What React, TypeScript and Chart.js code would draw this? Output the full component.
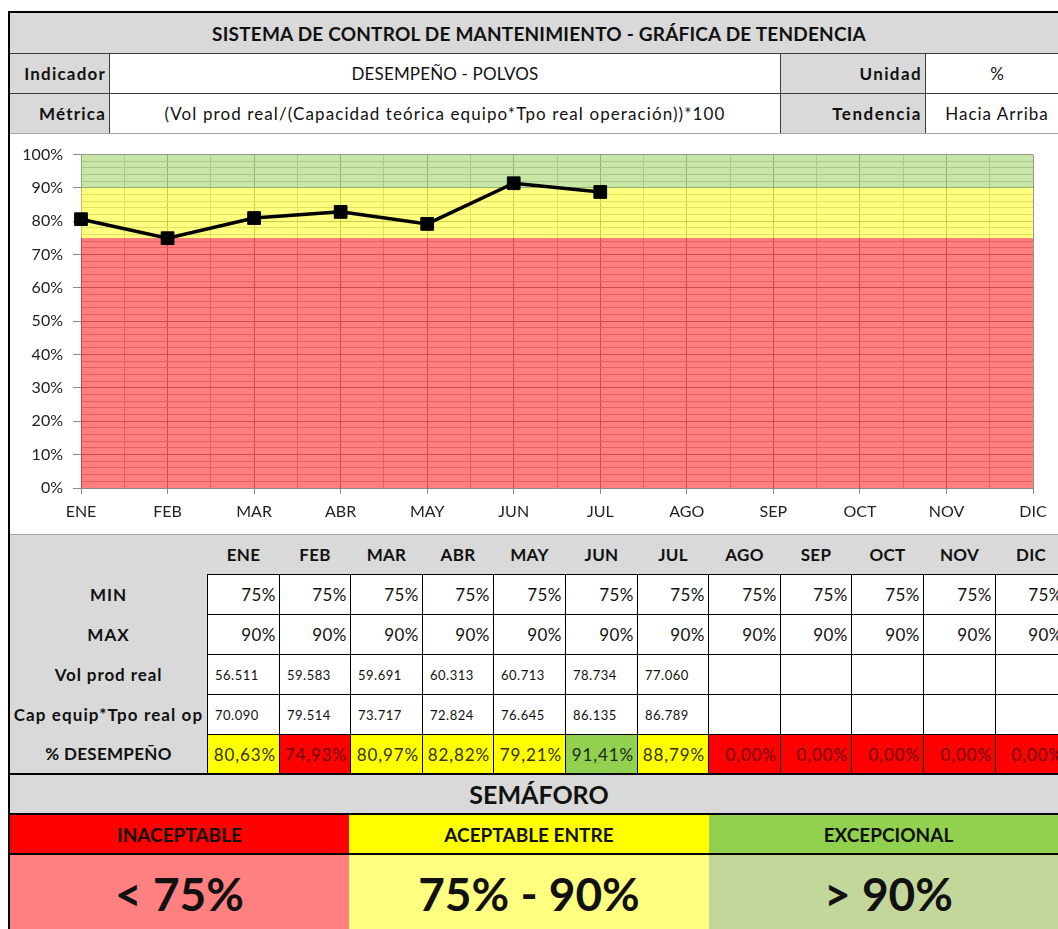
import React, { useEffect, useRef } from 'react';
import { Chart, registerables } from 'chart.js';

Chart.register(...registerables);

// ---------- data ----------
const MONTHS = ['ENE', 'FEB', 'MAR', 'ABR', 'MAY', 'JUN', 'JUL', 'AGO', 'SEP', 'OCT', 'NOV', 'DIC'];
const DESEMPENO = [80.63, 74.93, 80.97, 82.82, 79.21, 91.41, 88.79];
const TABLE_PERF = [80.63, 74.93, 80.97, 82.82, 79.21, 91.41, 88.79, 0, 0, 0, 0, 0];
const MIN_LIMIT = [75, 75, 75, 75, 75, 75, 75, 75, 75, 75, 75, 75];
const MAX_LIMIT = [90, 90, 90, 90, 90, 90, 90, 90, 90, 90, 90, 90];
const TOP_LIMIT = [100, 100, 100, 100, 100, 100, 100, 100, 100, 100, 100, 100];
const VOL_PROD = [56511, 59583, 59691, 60313, 60713, 78734, 77060];
const CAP_EQUIP = [70090, 79514, 73717, 72824, 76645, 86135, 86789];

const TITLE = 'SISTEMA DE CONTROL DE MANTENIMIENTO - GRÁFICA DE TENDENCIA';
const INDICADOR = 'DESEMPEÑO - POLVOS';
const METRICA = '(Vol prod real/(Capacidad teórica equipo*Tpo real operación))*100';
const UNIDAD = '%';
const TENDENCIA = 'Hacia Arriba';
const ROW_LABELS = ['MIN', 'MAX', 'Vol prod real', 'Cap equip*Tpo real op', '% DESEMPEÑO'];
const SEM_LABELS = ['INACEPTABLE', 'ACEPTABLE ENTRE', 'EXCEPCIONAL'];
const SEM_RANGES = ['< 75%', '75% - 90%', '> 90%'];

// ---------- styles ----------
const FONT = 'Lato, "Open Sans", "DejaVu Sans", sans-serif';
const GRAY = '#D9D9D9';
const TXT = '#111111';
const ROW_LABEL_SPACING = [1, 1, 0.9, 1.1, 0.3];

const fmtThousands = (n: number) => String(n).replace(/\B(?=(\d{3})+(?!\d))/g, '.');
const fmtPct = (v: number) => v.toFixed(2).replace('.', ',') + '%';

const pts = (arr: number[]) => arr.map((y, i) => ({ x: i, y }));

function TrendChart() {
  const ref = useRef<HTMLCanvasElement | null>(null);
  useEffect(() => {
    if (!ref.current) return;
    const major = '#969696';
    const minor = '#c2c2c2';
    const axis = '#8a8a8a';
    const chart = new Chart(ref.current, {
      type: 'line',
      data: {
        datasets: [
          {
            label: 'Desempeño',
            data: pts(DESEMPENO),
            borderColor: '#000000',
            backgroundColor: '#000000',
            pointBackgroundColor: '#000000',
            pointBorderColor: '#000000',
            borderWidth: 3.5,
            pointStyle: 'rect',
            pointRadius: 9,
            pointBorderWidth: 1,
            fill: false,
            tension: 0,
            clip: false,
          },
          {
            label: 'Inaceptable',
            data: pts(MIN_LIMIT),
            fill: 'origin',
            backgroundColor: 'rgba(255,0,0,0.5)',
            borderColor: 'transparent',
            borderWidth: 0,
            pointRadius: 0,
          },
          {
            label: 'Aceptable',
            data: pts(MAX_LIMIT),
            fill: '-1',
            backgroundColor: 'rgba(255,255,0,0.5)',
            borderColor: 'transparent',
            borderWidth: 0,
            pointRadius: 0,
          },
          {
            label: 'Excepcional',
            data: pts(TOP_LIMIT),
            fill: '-1',
            backgroundColor: 'rgba(146,208,80,0.5)',
            borderColor: 'transparent',
            borderWidth: 0,
            pointRadius: 0,
          },
        ],
      },
      options: {
        responsive: false,
        animation: false,
        devicePixelRatio: 1,
        events: [],
        layout: { padding: { top: 18, right: 25, left: 0, bottom: 0 } },
        plugins: { legend: { display: false }, tooltip: { enabled: false } },
        scales: {
          x: {
            type: 'linear',
            min: 0,
            max: MONTHS.length - 1,
            afterFit: (s: any) => { s.height = 45; },
            ticks: {
              stepSize: 0.5,
              autoSkip: false,
              maxRotation: 0,
              padding: 8,
              color: '#222222',
              font: { family: FONT, size: 16 },
              callback: (v: any) => (Number.isInteger(v) ? MONTHS[v] : ''),
            },
            grid: {
              color: (c: any) => (Number.isInteger(c.tick?.value) ? major : minor),
              tickColor: (c: any) => (Number.isInteger(c.tick?.value) ? axis : 'transparent'),
              tickLength: 6,
              lineWidth: 1,
            },
            border: { color: axis, width: 1 },
          },
          y: {
            min: 0,
            max: 100,
            afterFit: (s: any) => { s.width = 69; },
            ticks: {
              stepSize: 2,
              autoSkip: false,
              maxTicksLimit: 100,
              padding: 10,
              color: '#222222',
              font: { family: FONT, size: 16 },
              callback: (v: any) => (v % 10 === 0 ? v + '%' : ''),
            },
            grid: {
              color: (c: any) => (c.tick && c.tick.value % 10 === 0 ? major : minor),
              tickColor: (c: any) => (c.tick && c.tick.value % 10 === 0 ? axis : 'transparent'),
              tickLength: 8,
              lineWidth: 1,
            },
            border: { color: axis, width: 1 },
          },
        },
      },
    } as any);
    return () => chart.destroy();
  }, []);
  return <canvas ref={ref} width={1046} height={398} style={{ display: 'block' }} />;
}

type BoxProps = {
  x: number; y: number; w: number; h: number;
  bg?: string; align?: 'left' | 'center' | 'right';
  style?: React.CSSProperties; children?: React.ReactNode;
};
function Box({ x, y, w, h, bg, align = 'center', style, children }: BoxProps) {
  return (
    <div
      style={{
        position: 'absolute', left: x, top: y, width: w, height: h,
        background: bg, boxSizing: 'border-box', display: 'flex', alignItems: 'center',
        justifyContent: align === 'left' ? 'flex-start' : align === 'right' ? 'flex-end' : 'center',
        whiteSpace: 'nowrap', overflow: 'hidden', color: TXT, ...style,
      }}
    >
      {children}
    </div>
  );
}

const COL_X0 = 207;
const COL_W = 71.6;
const colLeft = (i: number) => Math.round(COL_X0 + i * COL_W);
const ROW_TOPS = [574, 614, 654, 694, 734, 773];

function perfColors(v: number) {
  if (v < MIN_LIMIT[0]) return { bg: '#FF0000', fg: '#6b0000' };
  if (v > MAX_LIMIT[0]) return { bg: '#92D050', fg: '#1c2a0c' };
  return { bg: '#FFFF00', fg: '#333300' };
}

export default function App() {
  const line = '#3c3c3c';
  const cells: React.ReactNode[] = [];
  MONTHS.forEach((m, i) => {
    const x = colLeft(i);
    const w = colLeft(i + 1) - x + 1;
    cells.push(
      <Box key={'h' + i} x={x} y={535} w={w} h={39} style={{ fontWeight: 700, fontSize: 17, letterSpacing: 0.3 }}>{m}</Box>
    );
    for (let r = 0; r < 5; r++) {
      const y = ROW_TOPS[r];
      const h = ROW_TOPS[r + 1] - y + 1;
      let content: React.ReactNode = '';
      let bg = '#FFFFFF';
      let fg = TXT;
      let align: 'left' | 'right' = 'right';
      let fontSize = 17;
      let ls = 0.5;
      if (r === 0) content = MIN_LIMIT[i] + '%';
      else if (r === 1) content = MAX_LIMIT[i] + '%';
      else if (r === 2) { content = VOL_PROD[i] !== undefined ? fmtThousands(VOL_PROD[i]) : ''; align = 'left'; fontSize = 13; }
      else if (r === 3) { content = CAP_EQUIP[i] !== undefined ? fmtThousands(CAP_EQUIP[i]) : ''; align = 'left'; fontSize = 13; }
      else { content = fmtPct(TABLE_PERF[i]); const c = perfColors(TABLE_PERF[i]); bg = c.bg; fg = c.fg; ls = 0.9; }
      cells.push(
        <Box key={'c' + i + '_' + r} x={x} y={y} w={w} h={h} bg={bg} align={align}
          style={{ border: '1px solid #000', fontSize, color: fg, padding: align === 'left' ? '0 0 0 7px' : '0 3px 0 0', letterSpacing: ls }}>
          {content}
        </Box>
      );
    }
  });

  const semX = [10, 349, 709, 1068];
  const labelStyle = (ls: number): React.CSSProperties => ({ fontWeight: 700, fontSize: 17, paddingRight: 3, letterSpacing: ls });

  return (
    <div style={{ position: 'absolute', left: 0, top: 0, width: 1058, height: 929, overflow: 'hidden', background: '#fff', fontFamily: FONT, color: TXT }}>
      {/* title */}
      <Box x={10} y={13} w={1058} h={40} bg={GRAY} style={{ fontWeight: 700, fontSize: 19, letterSpacing: 0.2 }}>{TITLE}</Box>
      <Box x={10} y={53} w={1058} h={1} bg={line} />
      {/* indicador row */}
      <Box x={10} y={54} w={99} h={39} bg={GRAY} align="right" style={labelStyle(1.2)}>Indicador</Box>
      <Box x={110} y={54} w={670} h={39} bg="#fff" style={{ fontSize: 17, letterSpacing: 0.15 }}>{INDICADOR}</Box>
      <Box x={781} y={54} w={144} h={39} bg={GRAY} align="right" style={labelStyle(1.4)}>Unidad</Box>
      <Box x={926} y={54} w={142} h={39} bg="#fff" style={{ fontSize: 17 }}>{UNIDAD}</Box>
      <Box x={10} y={93} w={1058} h={1} bg={line} />
      {/* metrica row */}
      <Box x={10} y={94} w={99} h={39} bg={GRAY} align="right" style={labelStyle(1.2)}>Métrica</Box>
      <Box x={110} y={94} w={670} h={39} bg="#fff" style={{ fontSize: 17, letterSpacing: 1.1 }}>{METRICA}</Box>
      <Box x={781} y={94} w={144} h={39} bg={GRAY} align="right" style={labelStyle(1.5)}>Tendencia</Box>
      <Box x={926} y={94} w={142} h={39} bg="#fff" style={{ fontSize: 17, letterSpacing: 1 }}>{TENDENCIA}</Box>
      {/* vertical separators */}
      <Box x={109} y={54} w={1} h={79} bg={line} />
      <Box x={780} y={54} w={1} h={79} bg={line} />
      <Box x={925} y={54} w={1} h={79} bg={line} />
      <Box x={10} y={133} w={1058} h={1} bg="#a6a6a6" />

      {/* chart */}
      <div style={{ position: 'absolute', left: 12, top: 135, width: 1046, height: 398 }}>
        <TrendChart />
      </div>
      <Box x={10} y={534} w={1058} h={1} bg="#a6a6a6" />

      {/* table */}
      <Box x={10} y={535} w={1058} h={238} bg={GRAY} />
      {ROW_LABELS.map((l, r) => (
        <Box key={'l' + r} x={10} y={ROW_TOPS[r]} w={197} h={ROW_TOPS[r + 1] - ROW_TOPS[r]}
          style={{ fontWeight: 700, fontSize: 17, letterSpacing: ROW_LABEL_SPACING[r] }}>{l}</Box>
      ))}
      {cells}

      {/* semaforo */}
      <Box x={10} y={773} w={1058} h={2} bg="#000" />
      <Box x={10} y={775} w={1058} h={38} bg={GRAY} style={{ fontWeight: 700, fontSize: 25 }}>SEMÁFORO</Box>
      <Box x={10} y={813} w={1058} h={2} bg="#000" />
      {SEM_LABELS.map((l, i) => (
        <Box key={'s' + i} x={semX[i]} y={815} w={semX[i + 1] - semX[i]} h={38}
          bg={['#FF0000', '#FFFF00', '#92D050'][i]} style={{ fontWeight: 700, fontSize: 19 }}>{l}</Box>
      ))}
      <Box x={10} y={853} w={1058} h={2} bg="#000" />
      {SEM_RANGES.map((l, i) => (
        <Box key={'r' + i} x={semX[i]} y={855} w={semX[i + 1] - semX[i]} h={76}
          bg={['#FF8080', '#FFFF80', '#C4D79B'][i]} style={{ fontWeight: 700, fontSize: 46 }}>{l}</Box>
      ))}

      {/* outer frame */}
      <Box x={8} y={11} w={2} h={918} bg="#000" />
      <Box x={8} y={11} w={1060} h={2} bg="#000" />
    </div>
  );
}
